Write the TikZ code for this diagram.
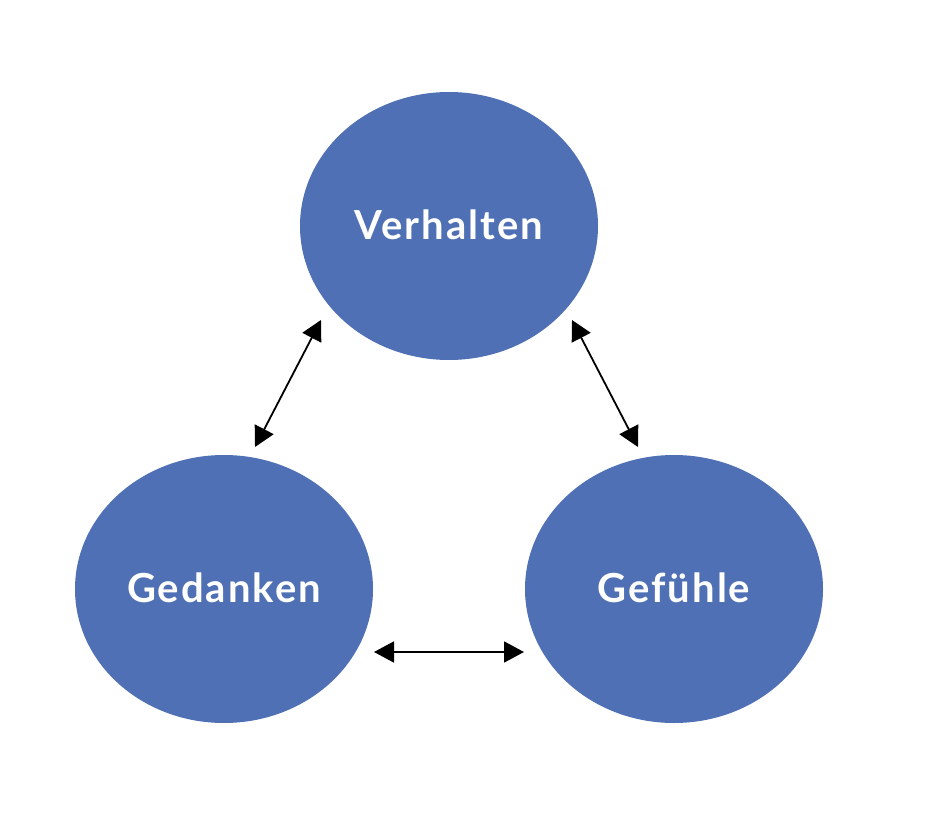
\documentclass[tikz,border=0pt]{standalone}
\usepackage{fontspec}
\setmainfont{Lato}
\newfontfamily\labelfont[LetterSpace=5]{Lato}
\usetikzlibrary{arrows.meta,shapes.geometric}
\definecolor{bubble}{RGB}{79,112,180}
\tikzset{
  bubblenode/.style={ellipse, fill=bubble, minimum width=298pt, minimum height=268pt, inner sep=0pt,
    text=white, font=\labelfont\fontsize{40}{46}\selectfont\bfseries},
  link/.style={line width=1.8pt, {Triangle[length=20pt,width=21pt]}-{Triangle[length=20pt,width=21pt]}}
}
\begin{document}
\begin{tikzpicture}[x=1pt,y=-1pt]
\useasboundingbox (0,0) rectangle (940,824);
\node[bubblenode] (verh) at (449,226) {\raisebox{2pt}{Verhalten}};
\node[bubblenode] (ged) at (224,589) {\raisebox{2pt}{Gedanken}};
\node[bubblenode] (gef) at (674,589) {\raisebox{2pt}{Gefühle}};
\coordinate (a1) at (321,320);
\coordinate (a2) at (255,447);
\coordinate (b1) at (572,320);
\coordinate (b2) at (638,447);
\coordinate (c1) at (374,652);
\coordinate (c2) at (524,652);
\draw[link] (a1) -- (a2);
\draw[link] (b1) -- (b2);
\draw[link] (c1) -- (c2);
\end{tikzpicture}
\end{document}
